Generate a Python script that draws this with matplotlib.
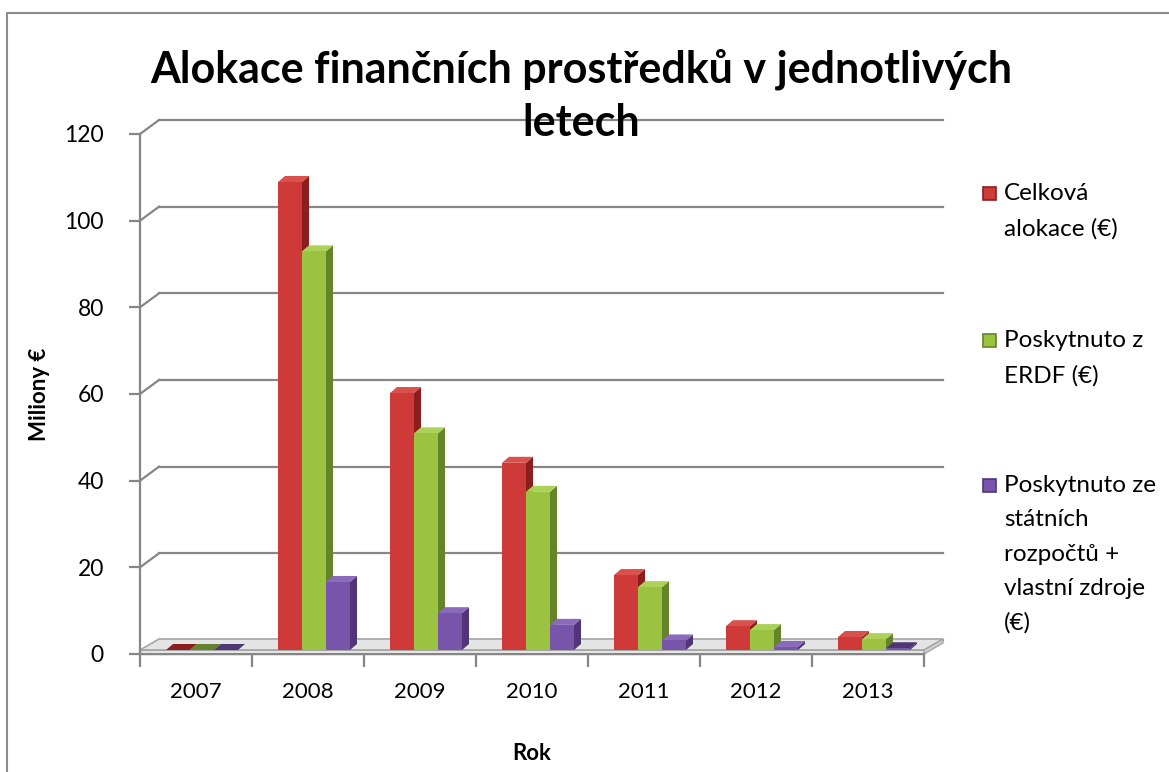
import numpy as np
import matplotlib
matplotlib.use('Agg')
from matplotlib import pyplot as plt
from matplotlib.patches import Polygon, Rectangle

plt.rcParams['font.family'] = ['Lato', 'DejaVu Sans']

# data (millions of EUR)
years = ['2007', '2008', '2009', '2010', '2011', '2012', '2013']
celkova = [0.0, 108.0, 59.3, 43.2, 17.3, 5.5, 3.0]
erdf = [0.0, 92.0, 50.0, 36.5, 14.5, 4.6, 2.5]
statni = [0.0, 15.7, 8.5, 5.8, 2.2, 0.7, 0.4]
series_names = ['Celková\nalokace (€)', 'Poskytnuto z\nERDF (€)',
                'Poskytnuto ze\nstátních\nrozpočtů +\nvlastní zdroje\n(€)']
yticks = [0, 20, 40, 60, 80, 100, 120]

front = ['#CD3A37', '#9BC341', '#7855AA']
side = ['#8C1F1D', '#65832A', '#4E3677']
top = ['#D9504C', '#ABD159', '#8A6ABB']
grid_c = '#868686'

W, H = 1169, 772
fig = plt.figure(figsize=(W / 100, H / 100), dpi=100)
fig.patch.set_facecolor('white')

# plot area (front plane)
ax = fig.add_axes([140 / W, 1 - 654 / H, 784 / W, 520 / H])
ax.set_xlim(0, 7)
ax.set_ylim(0, 120)
ax.set_facecolor('none')
xpx = 784 / 7.0
ypx = 520 / 120.0

def px_x(p):
    return p / xpx

def px_y(p):
    return p / ypx

DX, DY = px_x(19), px_y(14)

# back wall gridlines and connectors
for v in yticks:
    ax.plot([DX, 7 + DX], [v + DY, v + DY], color=grid_c, lw=1.6, clip_on=False, zorder=1)
    ax.plot([0, DX], [v, v + DY], color=grid_c, lw=1.6, clip_on=False, zorder=1)

# floor slab
T = px_y(4)
floor = Polygon([(0, T), (7, T), (7 + DX, T + DY - px_y(3)), (DX, T + DY - px_y(3))],
                closed=True, facecolor='#E4E4E4', edgecolor='#A6A6A6', lw=1.2, zorder=1.5,
                clip_on=False)
ax.add_patch(floor)
ax.add_patch(Rectangle((0, 0), 7, T, facecolor='#F2F2F2', edgecolor='#A6A6A6', lw=1.0,
                       zorder=1.6, clip_on=False))
ax.add_patch(Polygon([(7, 0), (7 + DX, DY - px_y(3)), (7 + DX, T + DY - px_y(3)), (7, T)],
                     closed=True, facecolor='#D0D0D0', edgecolor='#A6A6A6', lw=1.0,
                     zorder=1.6, clip_on=False))

# bars
w = px_x(24)
sx = px_x(6)
bdx, bdy = px_x(7), px_y(6)
x = np.arange(len(years)) + 0.5
for i, vals in enumerate([celkova, erdf, statni]):
    xs = x + (i - 1) * w + sx
    z = 3 + i * 0.1
    ax.bar(xs, vals, width=w, bottom=T, color=front[i], edgecolor='none', zorder=z + 0.02)
    for xc, v in zip(xs, vals):
        x0, x1 = xc - w / 2, xc + w / 2
        ax.add_patch(Polygon([(x1, T), (x1 + bdx, T + bdy), (x1 + bdx, T + v + bdy), (x1, T + v)],
                             closed=True, facecolor=side[i], edgecolor='none', zorder=z))
        tc = top[i] if v > 0.5 else side[i]
        ax.add_patch(Polygon([(x0, T + v), (x0 + bdx, T + v + bdy), (x1 + bdx, T + v + bdy), (x1, T + v)],
                             closed=True, facecolor=tc, edgecolor='none', zorder=z + 0.01))

# axes styling
for s in ['top', 'right']:
    ax.spines[s].set_visible(False)
for s in ['left', 'bottom']:
    ax.spines[s].set_color(grid_c)
    ax.spines[s].set_linewidth(1.6)
    ax.spines[s].set_zorder(2)
ax.set_yticks(yticks)
ax.tick_params(axis='y', length=8, width=1.6, color=grid_c, labelsize=16.5, pad=18)
ax.set_xticks(np.arange(0, 8))
ax.set_xticklabels([])
ax.set_xticks(x, minor=True)
ax.set_xticklabels(years, minor=True)
ax.tick_params(axis='x', which='major', length=9, width=1.6, color=grid_c)
ax.tick_params(axis='x', which='minor', length=0, labelsize=16, pad=20)

ax.set_ylabel('Miliony €', fontsize=16, fontweight='bold', labelpad=10)
ax.set_xlabel('Rok', fontsize=16, fontweight='bold', labelpad=30)

# title
fig.text(581 / W, 1 - 96 / H, 'Alokace finančních prostředků v jednotlivých\nletech',
         ha='center', va='center', fontsize=31, fontweight='bold', linespacing=1.4)

# legend
leg_y = [193, 340, 485]
for i, (name, yy) in enumerate(zip(series_names, leg_y)):
    fig.patches.append(Rectangle((983 / W, 1 - (yy + 7) / H), 13 / W, 13 / H,
                                 transform=fig.transFigure, facecolor=front[i],
                                 edgecolor=side[i], lw=1.2))
    fig.text(1004 / W, 1 - (yy - 10) / H, name, ha='left', va='top', fontsize=17.5,
             linespacing=1.78)

# chart border
fig.patches.append(Rectangle((7 / W, -0.05), 1.1, 1 - 13 / H + 0.05, transform=fig.transFigure,
                             fill=False, edgecolor='#8C8C8C', lw=1.5))

plt.savefig('out.png', dpi=100)
